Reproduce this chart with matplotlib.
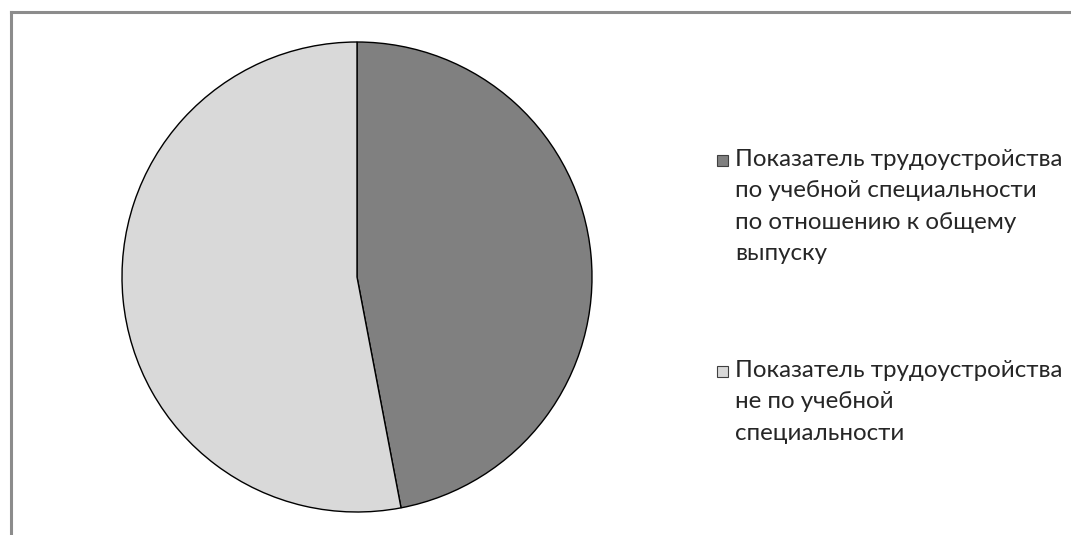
import matplotlib
matplotlib.use("Agg")
import matplotlib.pyplot as plt
from matplotlib.lines import Line2D
from matplotlib.patches import Rectangle

# shares of graduates (percent)
labels = [
    "Показатель трудоустройства\nпо учебной специальности\nпо отношению к общему\nвыпуску",
    "Показатель трудоустройства\nне по учебной\nспециальности",
]
values = [47, 53]
colors = ["#808080", "#d9d9d9"]

W, H = 1071, 535
fig = plt.figure(figsize=(W / 100, H / 100), dpi=100)

# chart frame (only top and left edges visible in the crop)
fig.add_artist(Line2D([11 / W, 11 / W], [0, 1 - 12 / H], color="#8c8c8c", lw=2.2))
fig.add_artist(Line2D([11 / W, 1], [1 - 12 / H, 1 - 12 / H], color="#8c8c8c", lw=2.2))

cx, cy, r = 357, 277, 235
ax = fig.add_axes([(cx - r) / W, (H - cy - r) / H, 2 * r / W, 2 * r / H])
ax.pie(values, colors=colors, startangle=90, counterclock=False,
       wedgeprops=dict(edgecolor="black", linewidth=1.0))
ax.set_xlim(-1, 1)
ax.set_ylim(-1, 1)
ax.set_aspect("equal")
ax.axis("off")

# legend drawn by hand to match spacing
tops = [160, 371]
for lab, col, y in zip(labels, colors, tops):
    fig.add_artist(Rectangle((717 / W, 1 - (y + 6) / H), 11 / W, 11 / H,
                             facecolor=col, edgecolor="#404040", lw=0.8))
    fig.text(735 / W, 1 - (y - 11) / H, lab, ha="left", va="top",
             fontsize=17.4, family=["Lato", "DejaVu Sans"], color="#262626",
             linespacing=1.61)

fig.savefig("out.png", dpi=100, facecolor="white")
